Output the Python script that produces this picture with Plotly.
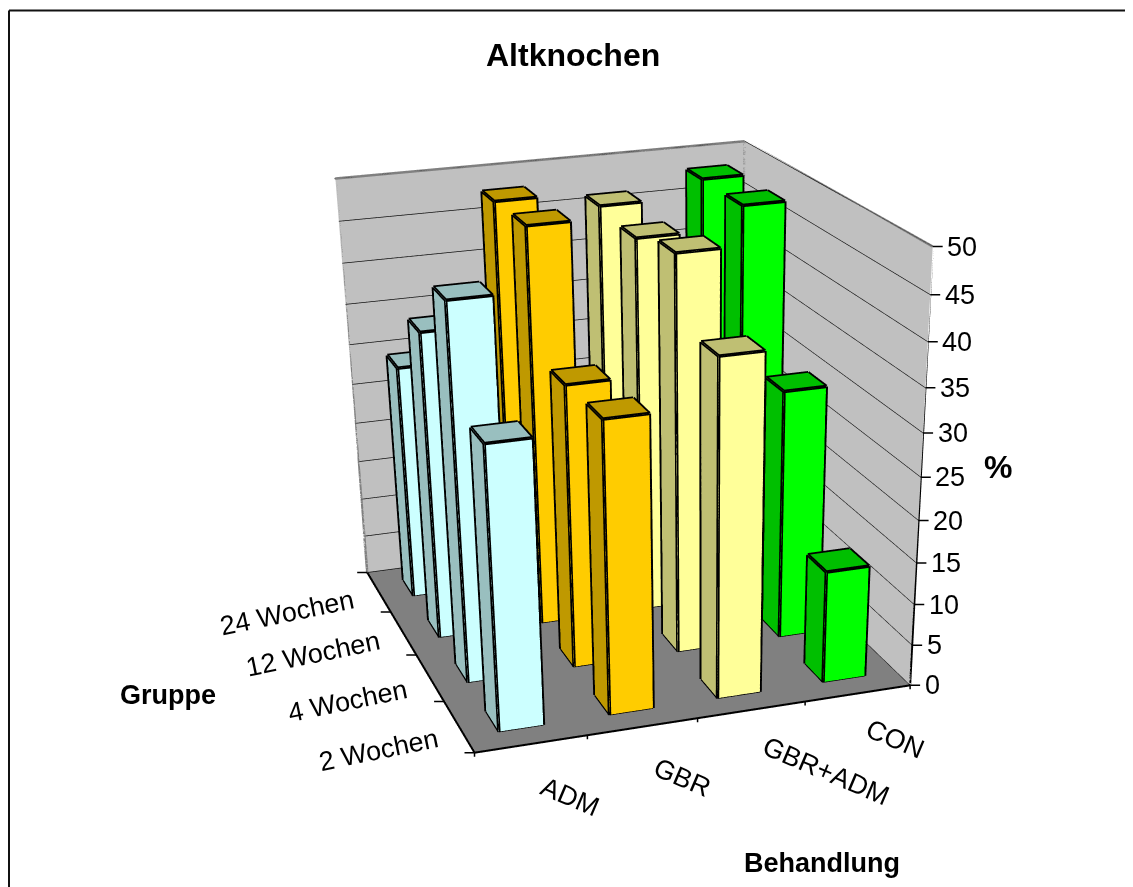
import numpy as np
import plotly.graph_objects as go

treatments = ["ADM", "GBR", "GBR+ADM", "CON"]
groups = ["2 Wochen", "4 Wochen", "12 Wochen", "24 Wochen"]
adm = [33.3, 44.7, 37.5, 29.4]
gbr = [34.4, 34.0, 48.2, 47.9]
gbr_adm = [39.7, 47.2, 45.6, 46.2]
con = [13.6, 30.3, 48.1, 48.2]
series = [adm, gbr, gbr_adm, con]
ztick = [0, 5, 10, 15, 20, 25, 30, 35, 40, 45, 50]

front = ["#CCFFFF", "#FFCC00", "#FFFF99", "#00FF00"]
shade = ["#99BFBF", "#BF9900", "#BFBF73", "#00BF00"]

# Page layout: the page body adds an 8 px margin around the figure.
PAGE_MARGIN = 8
FOCAL = 2266.8159            # sets the scene height, hence the strength of the perspective
CENTRE_X = 594.9716          # page x of the scene centre
figH = FOCAL * 2 * np.tan(np.pi / 8)
figW = 1133
half = min(CENTRE_X - PAGE_MARGIN, figW - (CENTRE_X - PAGE_MARGIN))
dx0 = (CENTRE_X - PAGE_MARGIN - half) / figW
dx1 = (CENTRE_X - PAGE_MARGIN + half) / figW

BWX, BWY = 0.2, 0.2
fig = go.Figure()
ex, ey, ez = [], [], []


def seg(a, b):
    ex.extend([a[0], b[0], None])
    ey.extend([a[1], b[1], None])
    ez.extend([a[2], b[2], None])


for i, vals in enumerate(series):
    for j, v in enumerate(vals):
        x0, x1, y0, y1 = i - BWX, i + BWX, j - BWY, j + BWY
        X = [x0, x1, x1, x0, x0, x1, x1, x0]
        Y = [y0, y0, y1, y1, y0, y0, y1, y1]
        Z = [0, 0, 0, 0, v, v, v, v]
        I = [0, 0, 0, 0, 4, 4]
        J = [1, 5, 3, 7, 5, 6]
        K = [5, 4, 7, 4, 6, 7]
        fc = [front[i]] * 2 + [shade[i]] * 4
        fig.add_trace(go.Mesh3d(x=X, y=Y, z=Z, i=I, j=J, k=K, facecolor=fc, flatshading=True,
                                lighting=dict(ambient=1, diffuse=0, specular=0, roughness=1, fresnel=0),
                                hoverinfo="skip", showscale=False))
        for a, b in [(0, 1), (1, 5), (5, 4), (4, 0), (0, 3), (3, 7), (7, 4), (5, 6), (6, 7)]:
            seg((X[a], Y[a], Z[a]), (X[b], Y[b], Z[b]))
fig.add_trace(go.Scatter3d(x=ex, y=ey, z=ez, mode="lines", line=dict(color="black", width=7),
                           hoverinfo="skip", showlegend=False))

xr = [-0.5, len(treatments) - 0.5]
yr = [-0.5, len(groups) - 0.5]
zr = [ztick[0], ztick[-1]]
# wall frame (grey) and the three axis lines (black)
fig.add_trace(go.Scatter3d(x=[xr[0], xr[0], xr[1], xr[1], None, xr[1], xr[1]],
                           y=[yr[1], yr[1], yr[1], yr[0], None, yr[1], yr[1]],
                           z=[zr[0], zr[1], zr[1], zr[1], None, zr[1], zr[0]],
                           mode="lines", line=dict(color="#808080", width=5), hoverinfo="skip", showlegend=False))
fig.add_trace(go.Scatter3d(x=[xr[0], xr[0], None, xr[0], xr[1], xr[1]],
                           y=[yr[1], yr[0], None, yr[0], yr[0], yr[0]],
                           z=[zr[0], zr[0], None, zr[0], zr[0], zr[1]],
                           mode="lines", line=dict(color="black", width=4), hoverinfo="skip", showlegend=False))

FONT = dict(family="Liberation Sans", size=27, color="black")
ann = []
tshift = [(39, -53), (40, -51), (74, -61), (37, -46)]
gshift = [(-80, -23), (-82, -23), (-90, -21), (-92, -21)]
for i, t in enumerate(treatments):
    ann.append(dict(x=i, y=yr[0], z=0, text=t, showarrow=False, textangle=23, font=FONT,
                    xshift=tshift[i][0], yshift=tshift[i][1]))
for j, g in enumerate(groups):
    ann.append(dict(x=xr[0], y=j, z=0, text=g, showarrow=False, textangle=-11.7, font=FONT,
                    xshift=gshift[j][0], yshift=gshift[j][1]))
TICK = dict(text=" ", showarrow=True, arrowhead=0, arrowwidth=1.5, arrowcolor="black")
for z in ztick:
    ann.append(dict(x=xr[1], y=yr[0], z=z, text=str(z), showarrow=False, font=FONT, xanchor="left", xshift=12.5))
    ann.append(dict(x=xr[1], y=yr[0], z=z, ax=13, ay=0, **TICK))
edges = [k - 0.5 for k in range(len(treatments) + 1)]
for e in edges:
    ann.append(dict(x=e, y=yr[0], z=0, ax=0, ay=14, **TICK))
    ann.append(dict(x=xr[0], y=e, z=0, ax=-13, ay=0, **TICK))

axis = dict(title="", showticklabels=False, zeroline=False, showspikes=False, showline=False, ticks="")
fig.update_layout(
    width=figW, height=figH, margin=dict(l=0, r=0, t=0, b=0), showlegend=False, autosize=False,
    paper_bgcolor="white",
    scene=dict(
        domain=dict(x=[dx0, dx1], y=[0, 1]),
        xaxis=dict(axis, range=xr, showgrid=False, showbackground=True, backgroundcolor="#C0C0C0"),
        yaxis=dict(axis, range=yr, showgrid=False, showbackground=True, backgroundcolor="#C0C0C0"),
        zaxis=dict(axis, range=zr, tickvals=ztick, showgrid=True, gridcolor="#111111", gridwidth=1.5,
                   showbackground=True, backgroundcolor="#808080"),
        aspectmode="manual", aspectratio=dict(x=1, y=1.0894, z=0.9607),
        camera=dict(eye=dict(x=-1.469, y=-4.7764, z=1.6349),
                    center=dict(x=-0.3572, y=-0.9276, z=-0.7719),
                    up=dict(x=0.1783, y=0.501, z=1),
                    projection=dict(type="perspective")),
        annotations=ann,
    ),
    shapes=[
        dict(type="line", xref="paper", yref="paper", x0=1 / figW, x1=1 / figW, y0=1 - 2.5 / figH, y1=0,
             line=dict(color="#111111", width=2)),
        dict(type="line", xref="paper", yref="paper", x0=1 / figW, x1=1, y0=1 - 2.5 / figH, y1=1 - 2.5 / figH,
             line=dict(color="#111111", width=2)),
    ],
)


def A(text, x, y, size):
    fig.add_annotation(text=text, x=(x - PAGE_MARGIN) / figW, y=1 - (y - PAGE_MARGIN) / figH, xref="paper", yref="paper",
                       showarrow=False, xanchor="center", yanchor="middle",
                       font=dict(family="Liberation Sans", size=size, color="black"))


A("<b>Altknochen</b>", 573, 55, 32)
A("<b>Gruppe</b>", 168, 695, 27)
A("<b>Behandlung</b>", 822, 863, 27)
A("<b>%</b>", 998, 467, 32)
fig.write_html("out.html")
